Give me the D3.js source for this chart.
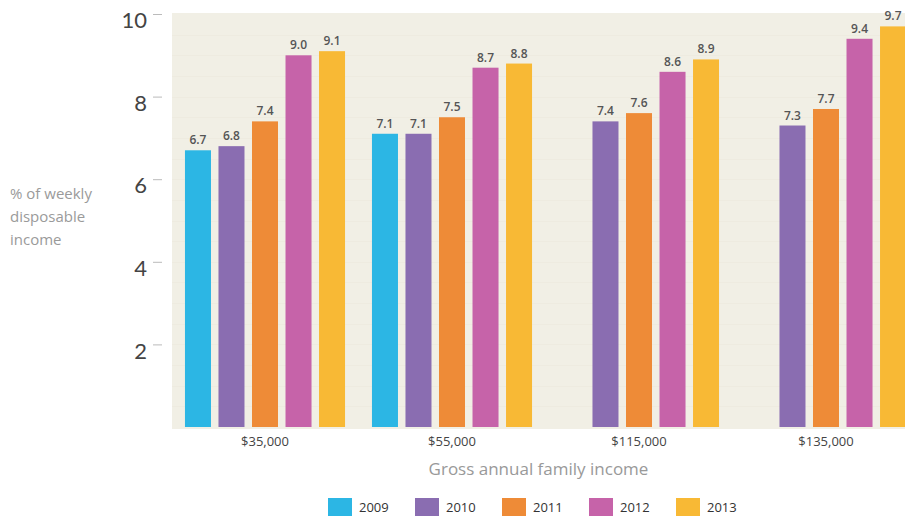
<!DOCTYPE html>
<html>
<head>
<meta charset="utf-8">
<script src="https://cdn.jsdelivr.net/npm/d3@7"></script>
<style>
  html, body { margin: 0; padding: 0; background: #ffffff; }
  svg { display: block; font-family: "Open Sans", "Noto Sans", sans-serif; }
</style>
</head>
<body>
<svg id="chart" width="905" height="520"></svg>
<script>
// ---- data ----
const categories = ["$35,000", "$55,000", "$115,000", "$135,000"];
const years = ["2009", "2010", "2011", "2012", "2013"];
const v2009 = [6.7, 7.1, null, null];
const v2010 = [6.8, 7.1, 7.4, 7.3];
const v2011 = [7.4, 7.5, 7.6, 7.7];
const v2012 = [9.0, 8.7, 8.6, 9.4];
const v2013 = [9.1, 8.8, 8.9, 9.7];
const yTicks = [2, 4, 6, 8, 10];
const yTitle = ["% of weekly", "disposable", "income"];
const xTitle = "Gross annual family income";

const seriesValues = [v2009, v2010, v2011, v2012, v2013];
const colors = ["#2cb6e4", "#8a6db1", "#ee8b37", "#c663a9", "#f8b935"];

const svg = d3.select("#chart");

const plot = { left: 172, right: 905, top: 13, bottom: 429 };

const y = d3.scaleLinear().domain([0, 10]).range([427, 14]);

const x0 = d3.scaleBand()
  .domain(categories)
  .range([171.5, 171.5 + 4 * 187])
  .paddingInner(0.144)
  .paddingOuter(0.072);

const x1 = d3.scaleBand()
  .domain(years)
  .range([0, x0.bandwidth()])
  .paddingInner(0.224)
  .paddingOuter(0);

const color = d3.scaleOrdinal().domain(years).range(colors);

// background
svg.append("rect")
  .attr("x", plot.left).attr("y", plot.top)
  .attr("width", plot.right - plot.left).attr("height", plot.bottom - plot.top)
  .attr("fill", "#f1efe5");

// faint grid
svg.append("g")
  .selectAll("line")
  .data(d3.range(0.5, 10, 0.5))
  .join("line")
  .attr("x1", plot.left).attr("x2", plot.right)
  .attr("y1", d => Math.round(y(d)) + 0.5).attr("y2", d => Math.round(y(d)) + 0.5)
  .attr("stroke", "#eeebe0").attr("stroke-width", 1);

// y axis
const yAxis = d3.axisLeft(y).tickValues(yTicks).tickSize(0).tickPadding(0);
const gy = svg.append("g").attr("transform", "translate(147,0)").call(yAxis);
gy.select(".domain").remove();
gy.selectAll(".tick text")
  .attr("x", 0).attr("dy", "0.62em")
  .attr("font-size", 22).attr("fill", "#444")
  .attr("text-anchor", "end")
  .attr("font-family", "Lato, 'Open Sans', sans-serif");
gy.selectAll(".tick").append("line")
  .attr("x1", 6).attr("x2", 15).attr("y1", 0).attr("y2", 0)
  .attr("stroke", "#bbbbbb").attr("stroke-width", 1);

// y title
svg.append("text")
  .attr("x", 10).attr("y", 199)
  .attr("font-size", 15).attr("fill", "#9a9a9a")
  .selectAll("tspan").data(yTitle).join("tspan")
  .attr("x", 10).attr("dy", (d, i) => i === 0 ? 0 : 23)
  .text(d => d);

// bars
const groups = svg.append("g").selectAll("g")
  .data(categories)
  .join("g")
  .attr("transform", d => `translate(${x0(d)},0)`);

const barData = (cat, ci) => years.map((yr, si) => ({ yr, value: seriesValues[si][ci] }))
  .filter(d => d.value != null);

groups.selectAll("rect")
  .data((d, ci) => barData(d, ci))
  .join("rect")
  .attr("x", d => x1(d.yr))
  .attr("width", x1.bandwidth())
  .attr("y", d => y(d.value))
  .attr("height", d => y(0) - y(d.value))
  .attr("fill", d => color(d.yr));

groups.selectAll("text")
  .data((d, ci) => barData(d, ci))
  .join("text")
  .attr("x", d => x1(d.yr) + x1.bandwidth() / 2)
  .attr("y", d => y(d.value) - 6)
  .attr("text-anchor", "middle")
  .attr("font-size", 12).attr("font-weight", 600).attr("fill", "#555")
  .text(d => d3.format(".1f")(d.value));

// x axis labels
const xAxis = d3.axisBottom(x0).tickSize(0).tickPadding(0);
const gx = svg.append("g").attr("transform", "translate(0,446)").call(xAxis);
gx.select(".domain").remove();
gx.selectAll(".tick text")
  .attr("y", 0).attr("dy", 0)
  .attr("font-size", 13).attr("fill", "#444")
  .attr("font-family", "'Open Sans', sans-serif");

// x title
svg.append("text")
  .attr("x", (plot.left + plot.right) / 2).attr("y", 475)
  .attr("text-anchor", "middle")
  .attr("font-size", 17).attr("fill", "#999")
  .text(xTitle);

// legend
const legend = svg.append("g").attr("transform", "translate(328,498)");
const li = legend.selectAll("g").data(years).join("g")
  .attr("transform", (d, i) => `translate(${i * 87},0)`);
li.append("rect").attr("width", 24).attr("height", 18).attr("fill", d => color(d));
li.append("text").attr("x", 31).attr("y", 14)
  .attr("font-size", 13).attr("fill", "#333")
  .text(d => d);
</script>
</body>
</html>
